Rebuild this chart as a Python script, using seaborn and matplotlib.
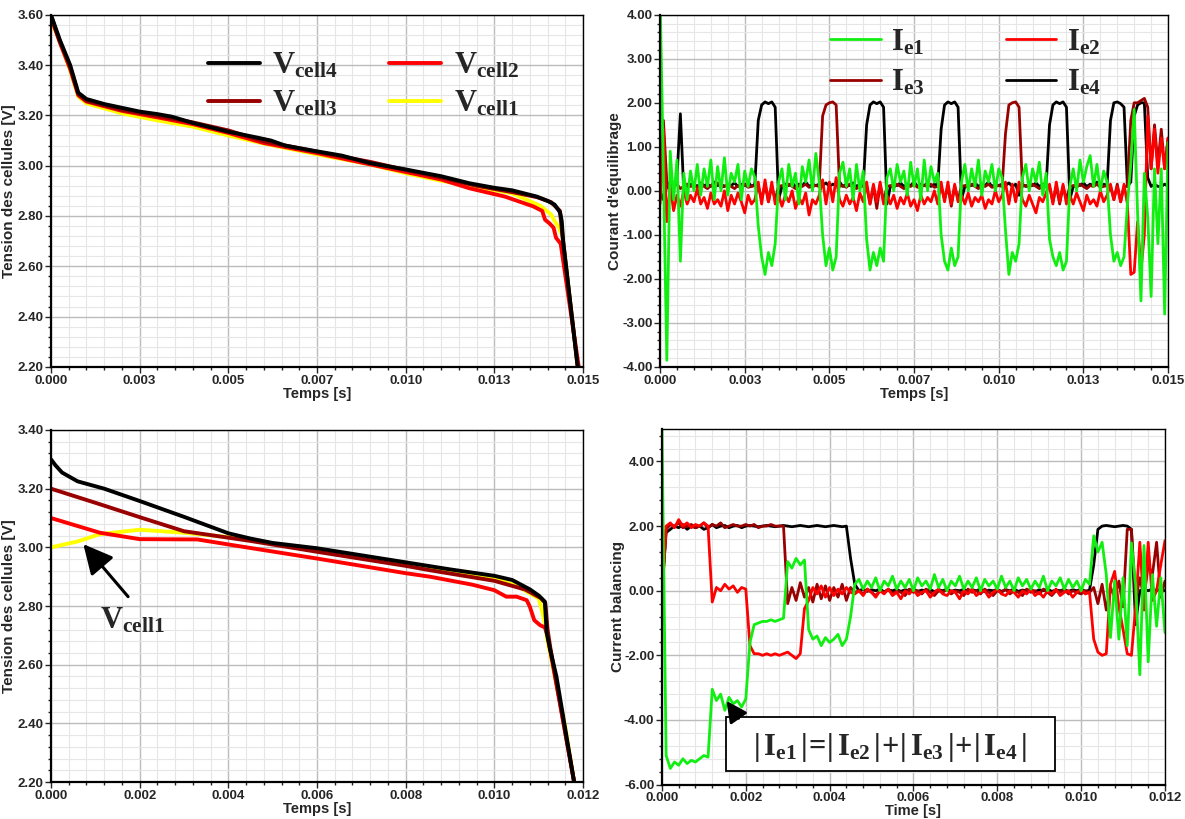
import numpy as np
import pandas as pd
import matplotlib
matplotlib.use("Agg")
import matplotlib.pyplot as plt
import seaborn as sns
from matplotlib.ticker import MultipleLocator, FormatStrFormatter, FixedLocator, FixedFormatter
from matplotlib.patches import Rectangle

# ---------------- data ----------------
DT = 0.0001  # sample step of the balancing currents [s]

# tick labels (the original software rounds 0.0025 steps to 3 decimals)
TOP_XTICKS = [0.0, 0.0025, 0.005, 0.0075, 0.01, 0.0125, 0.015]
TOP_XLABELS = ["0.000", "0.003", "0.005", "0.007", "0.010", "0.013", "0.015"]
BOT_XTICKS = [0.0, 0.002, 0.004, 0.006, 0.008, 0.010, 0.012]
BOT_XLABELS = ["0.000", "0.002", "0.004", "0.006", "0.008", "0.010", "0.012"]

# top left : cell voltages, same initial charge
t_v4_a = [0, 0.00025, 0.00054, 0.00077, 0.001, 0.0015, 0.002, 0.0025, 0.003, 0.0034,
          0.004, 0.005, 0.0058, 0.0062, 0.0066, 0.0075, 0.0082, 0.009, 0.01, 0.011,
          0.0118, 0.0125, 0.013, 0.0137, 0.014, 0.0142, 0.01435, 0.0144, 0.01444, 0.01485]
v4_a = [3.60, 3.50, 3.40, 3.29, 3.265, 3.245, 3.23, 3.215, 3.205, 3.195,
        3.17, 3.135, 3.112, 3.10, 3.08, 3.057, 3.04, 3.01, 2.985, 2.958,
        2.93, 2.912, 2.902, 2.877, 2.86, 2.845, 2.815, 2.78, 2.70, 2.20]
t_v3_a = [0, 0.00025, 0.00054, 0.00077, 0.001, 0.002, 0.003, 0.004, 0.005, 0.006,
          0.0075, 0.009, 0.01, 0.011, 0.012, 0.013, 0.0137, 0.0141, 0.01435, 0.01442, 0.01485]
v3_a = [3.595, 3.495, 3.395, 3.285, 3.258, 3.222, 3.198, 3.172, 3.14, 3.097,
        3.055, 3.015, 2.983, 2.953, 2.92, 2.895, 2.875, 2.855, 2.82, 2.72, 2.20]
t_v2_a = [0, 0.00025, 0.00054, 0.00077, 0.001, 0.002, 0.003, 0.004, 0.005, 0.006,
          0.0075, 0.009, 0.01, 0.011, 0.0118, 0.0128, 0.0136, 0.01385, 0.01393, 0.01406,
          0.01417, 0.01424, 0.01437, 0.01488]
v2_a = [3.59, 3.49, 3.385, 3.28, 3.255, 3.218, 3.192, 3.165, 3.13, 3.09,
        3.05, 3.005, 2.975, 2.945, 2.91, 2.877, 2.838, 2.82, 2.785, 2.77,
        2.753, 2.713, 2.69, 2.20]
t_v1_a = [0, 0.00018, 0.00054, 0.00077, 0.001, 0.002, 0.003, 0.004, 0.005, 0.006,
          0.0075, 0.009, 0.01, 0.011, 0.012, 0.013, 0.0138, 0.0141, 0.01424, 0.0143,
          0.01442, 0.01485]
v1_a = [3.575, 3.52, 3.38, 3.275, 3.248, 3.208, 3.18, 3.155, 3.12, 3.088,
        3.045, 3.005, 2.97, 2.94, 2.915, 2.89, 2.84, 2.806, 2.77, 2.76,
        2.72, 2.20]

# top right : balancing currents, one sample every DT
ie1_a = [4.5, 0.4, -3.85, 0.9, -0.2, 0.7, -1.6, 0.4, -0.2, 0.45,
         0.0, 0.6, -0.1, 0.5, 0.1, 0.7, -0.2, 0.55, 0.0, 0.75,
         -0.1, 0.4, 0.2, 0.6, -0.2, 0.45, 0.1, 0.5, 0.3,
         -0.8, -1.5, -1.9, -1.4, -1.7, -1.2, 0.2,
         0.5, -0.2, 0.6, 0.1, 0.4, -0.3, 0.55, 0.2, 0.7, 0.0, 0.85, 0.2,
         -1.0, -1.7, -1.3, -1.8, -1.5, 0.4,
         0.65, 0.1, 0.5, -0.2, 0.6, 0.0, 0.45,
         -1.1, -1.8, -1.4, -1.7, -1.3, -1.6, 0.3,
         0.5, 0.0, 0.6, 0.2, 0.45, -0.1, 0.65, 0.1, 0.5, -0.2, 0.7, 0.0, 0.55, 0.2, 0.4,
         -1.0, -1.6, -1.8, -1.3, -1.7, -1.5, 0.2,
         0.6, 0.0, 0.5, 0.1, 0.7, -0.1, 0.45, 0.2, 0.6, 0.0, 0.5, 0.3,
         -0.9, -1.9, -1.4, -1.6, -1.2, 0.3,
         0.6, 0.0, 0.5, 0.2, 0.65, -0.1, 0.4,
         -1.1, -1.5, -1.7, -1.4, -1.8, -1.6, 0.1,
         0.5, 0.0, 0.7, 0.2, 0.55, 0.8, 0.1, 0.6, 0.0, 0.45, 0.2,
         -1.0, -1.6, -1.4, -1.7, -1.5, -0.3,
         0.6, 1.85, -0.5, -2.5, 0.4, -0.6, -2.4, 0.5, -1.2, 0.5, -2.8, 1.1]
ie2_a = [-0.3, 1.4, -0.7, 0.1, -0.45, -0.1, -0.35, 0.0, -0.3, -0.1,
         -0.25, 0.05, -0.3, -0.15, -0.4, -0.05, -0.3, -0.2, -0.35, 0.0,
         -0.45, -0.1, -0.3, -0.05, -0.25, -0.5, -0.1, -0.3, -0.2,
         0.2, -0.3, 0.25, -0.25, 0.2, -0.3, -0.1,
         -0.35, -0.1, -0.25, 0.0, -0.4, -0.15, -0.3, -0.05, -0.55, -0.2, -0.3, -0.1,
         0.25, -0.3, 0.2, -0.25, 0.3, -0.2,
         -0.35, -0.1, -0.3, -0.15, -0.45, -0.05, -0.25,
         0.2, -0.3, 0.15, -0.25, 0.2, -0.3, -0.1,
         -0.3, -0.1, -0.4, -0.15, -0.3, -0.05, -0.35, -0.2, -0.45, -0.1, -0.3, -0.15, -0.25, 0.0, -0.3,
         0.2, -0.25, 0.2, -0.3, 0.15, -0.25, -0.1,
         -0.3, -0.05, -0.35, -0.15, -0.25, -0.1, -0.4, -0.2, -0.3, 0.0, -0.25, -0.1,
         0.2, -0.3, 0.15, -0.25, 0.2, -0.2,
         -0.35, -0.1, -0.3, -0.5, -0.15, -0.25, -0.05,
         0.15, -0.3, 0.2, -0.25, 0.15, -0.3, -0.1,
         -0.3, -0.05, -0.25, -0.45, -0.1, -0.3, -0.2, -0.35, 0.0, -0.25, -0.1,
         0.15, -0.2, 0.1, -0.25, 0.15, -0.3,
         -1.9, -1.85, -0.7, -1.8, -1.0, 1.7, 0.5, 1.4, 0.4, 1.2, 0.5, 1.2]
ie3_a = [-0.2, 1.6, 0.2, 0.0, 0.1, 0.15, 0.05, 0.1, 0.15, 0.1,
         0.12, 0.08, 0.15, 0.1, 0.05, 0.12, 0.1, 0.18, 0.08, 0.1,
         0.15, 0.1, 0.05, 0.12, 0.1, 0.15, 0.08, 0.1, 0.12,
         0.1, -0.2, 0.15, -0.25, 0.1, -0.2, 0.1,
         0.12, 0.08, 0.15, 0.1, 0.05, 0.12, 0.1, 0.15, 0.08, 0.1, 0.12, 0.1,
         1.7, 1.95, 2.0, 2.02, 1.95, 0.1,
         0.12, 0.08, 0.15, 0.1, 0.05, 0.12, 0.1,
         0.1, -0.3, 0.1, -0.4, 0.15, -0.25, 0.1,
         0.12, 0.08, 0.15, 0.1, 0.05, 0.12, 0.1, 0.15, 0.08, 0.1, 0.12, 0.1, 0.15, 0.08, 0.1,
         0.1, -0.2, 0.1, -0.35, 0.1, -0.2, 0.1,
         0.12, 0.08, 0.15, 0.1, 0.05, 0.12, 0.1, 0.15, 0.08, 0.1, 0.12, 0.1,
         1.3, 1.95, 2.0, 2.02, 1.9, 0.1,
         0.12, 0.08, 0.15, 0.1, 0.05, 0.12, 0.1,
         0.1, -0.25, 0.1, -0.3, 0.1, -0.2, 0.1,
         0.12, 0.08, 0.15, 0.1, 0.05, 0.12, 0.1, 0.15, 0.08, 0.1, 0.12,
         0.1, -0.2, 0.15, -0.25, 0.1, 0.1,
         1.6, 2.0, 2.0, 2.05, 2.1, 1.9, 0.5, 1.5, 0.6, 1.4, 0.5, 1.2]
ie4_a = [0.0, -0.2, 0.1, 0.2, 0.1, 0.3, 1.75, 0.0, 0.1, 0.15,
         0.15, 0.1, 0.18, 0.12, 0.15, 0.1, 0.2, 0.12, 0.15, 0.1,
         0.15, 0.12, 0.18, 0.1, 0.15, 0.12, 0.2, 0.1, 0.15,
         1.6, 1.95, 2.02, 1.98, 2.02, 1.9, -0.2,
         0.1, 0.15, 0.12, 0.18, 0.1, 0.15, 0.12, 0.2, 0.1, 0.15, 0.12, 0.15,
         0.12, 0.18, 0.1, 0.15, 0.12, 0.2,
         0.1, 0.15, 0.12, 0.18, 0.1, 0.15, 0.12,
         1.5, 1.95, 2.02, 1.98, 2.02, 1.9, -0.3,
         0.1, 0.15, 0.12, 0.18, 0.1, 0.15, 0.12, 0.2, 0.1, 0.15, 0.12, 0.18, 0.1, 0.15, 0.12,
         1.4, 1.95, 2.02, 1.98, 2.02, 1.9, -0.2,
         0.1, 0.15, 0.12, 0.18, 0.1, 0.15, 0.12, 0.2, 0.1, 0.15, 0.12, 0.15,
         0.12, 0.18, 0.1, 0.15, -0.1, 0.15,
         0.1, 0.15, 0.12, 0.18, 0.1, 0.15, 0.12,
         1.5, 1.95, 2.02, 1.98, 2.02, 1.9, -0.2,
         0.1, 0.15, 0.12, 0.18, 0.1, 0.15, 0.12, 0.2, 0.1, 0.15, 0.12,
         1.6, 2.0, 2.02, 1.98, 1.9, 0.1,
         0.2, 1.7, 1.95, 2.0, 2.0, 0.3, 0.1, 0.15, 0.1, 0.1, 0.15, 0.1]

# bottom left : cell voltages, unbalanced initial charge
t_v4_b = [0, 0.0001, 0.00025, 0.0006, 0.0012, 0.002, 0.003, 0.004, 0.0045, 0.005,
          0.006, 0.007, 0.008, 0.009, 0.01, 0.0104, 0.0108, 0.011, 0.01114, 0.01118,
          0.01126, 0.0114, 0.0118]
v4_b = [3.30, 3.28, 3.255, 3.225, 3.20, 3.158, 3.104, 3.048, 3.03, 3.015,
        2.997, 2.973, 2.949, 2.925, 2.903, 2.889, 2.857, 2.836, 2.815, 2.71,
        2.65, 2.56, 2.20]
t_v3_b = [0, 0.001, 0.002, 0.003, 0.0045, 0.006, 0.008, 0.00855, 0.01, 0.0107,
          0.01105, 0.01115, 0.0112, 0.01126, 0.0118]
v3_b = [3.20, 3.152, 3.103, 3.055, 3.022, 2.985, 2.937, 2.922, 2.886, 2.856,
        2.827, 2.81, 2.72, 2.66, 2.20]
t_v2_b = [0, 0.0011, 0.002, 0.0033, 0.0047, 0.006, 0.008, 0.00855, 0.0095, 0.01,
          0.01027, 0.0105, 0.01073, 0.0108, 0.0109, 0.01103, 0.01114, 0.0112, 0.0118]
v2_b = [3.10, 3.05, 3.028, 3.027, 2.993, 2.962, 2.912, 2.90, 2.873, 2.854,
        2.832, 2.832, 2.82, 2.798, 2.752, 2.735, 2.727, 2.70, 2.20]
t_v1_b = [0, 0.0006, 0.0011, 0.002, 0.003, 0.004, 0.005, 0.006, 0.008, 0.01,
          0.0105, 0.0108, 0.011, 0.01105, 0.01114, 0.0112, 0.01161, 0.0118]
v1_b = [3.00, 3.02, 3.045, 3.06, 3.05, 3.035, 3.012, 2.99, 2.942, 2.892,
        2.87, 2.843, 2.826, 2.80, 2.74, 2.68, 2.38, 2.20]

# bottom right : balancing currents, one sample every DT
ie1_b = [5.0, -5.1, -5.5, -5.3, -5.4, -5.2, -5.35, -5.25, -5.3, -5.2, -5.1, -5.15,
         -3.05, -3.4, -3.2, -3.7, -3.3, -3.5, -3.4, -3.6, -3.35, -1.6,
         -1.05, -1.0, -0.95, -0.95, -0.9, -0.95, -0.9, -0.85,
         0.9, 0.7, 1.0, 0.8, 0.95, -1.2,
         -1.5, -1.4, -1.7, -1.45, -1.6, -1.5, -1.35, -1.7, -1.5, -0.8,
         0.2, 0.35, 0.05, 0.3, 0.1, 0.4, 0.0, 0.3, 0.15, 0.45,
         0.05, 0.3, 0.1, 0.35, 0.0, 0.4, 0.15, 0.3, 0.05, 0.5,
         0.1, 0.35, 0.0, 0.3, 0.15, 0.45, 0.05, 0.3, 0.1, 0.4,
         0.0, 0.35, 0.15, 0.3, 0.05, 0.45, 0.1, 0.3, 0.0, 0.4,
         0.15, 0.35, 0.05, 0.3, 0.1, 0.45, 0.0, 0.3, 0.15, 0.4,
         0.05, 0.35, 0.1, 0.3, 0.0, 0.35, 0.2,
         1.7, 1.2, 1.5, 0.5, -1.45, 0.3, -1.5, 0.4, -1.7, 1.48, 0.2, -2.6,
         1.4, -2.2, 0.5, -1.1, 0.4, -1.3]
ie2_b = [-0.3, 2.0, 2.1, 1.95, 2.2, 2.0, 2.1, 1.95, 2.05, 2.0, 2.1, 2.0,
         -0.35, 0.1, 0.0, 0.2, 0.05, 0.15, -0.05, 0.1, 0.05,
         -1.7, -1.95, -1.95, -2.0, -1.95, -2.0, -1.95, -2.0, -1.95, -1.9, -2.0, -2.1, -1.95,
         -0.55, -0.3, 0.1, -0.1, 0.15, -0.2, 0.1, -0.15, 0.05, -0.1, 0.1, -0.05,
         -0.1, 0.0, -0.15, 0.05, -0.05, -0.2, 0.0, -0.1, 0.05, -0.15,
         -0.05, -0.25, 0.0, -0.1, 0.05, -0.15, -0.05, 0.0, -0.2, -0.05,
         0.05, -0.1, -0.15, 0.0, -0.05, -0.25, 0.0, -0.1, 0.05, -0.15,
         -0.05, 0.0, -0.2, -0.05, 0.05, -0.1, -0.15, 0.0, -0.05, -0.2,
         0.0, -0.1, 0.05, -0.15, -0.05, -0.2, 0.0, -0.1, 0.05, -0.15,
         -0.05, 0.0, -0.2, -0.05, 0.05, -0.1, -0.05,
         -1.5, -1.9, -2.0, -1.95, 0.2, 0.6, -0.5, -1.2, -1.95, -2.0, -0.5, 1.5,
         -0.6, 1.5, -0.3, 0.0, 0.8, 1.55]
ie3_b = [0.0, 1.9, 2.05, 2.0, 2.1, 1.95, 2.0, 2.05, 1.95, 2.0,
         2.1, 1.95, 2.05, 2.0, 2.1, 1.95, 2.0, 2.05, 2.0, 2.0,
         2.05, 2.0, 2.05, 1.95, 2.0, 2.0, 2.05, 2.0, 2.0, 2.0,
         -0.4, 0.1, -0.3, 0.25, -0.2, 0.1, -0.35, 0.2, -0.25, 0.15, -0.3, 0.1, -0.2, 0.2, -0.3, 0.1,
         -0.05, 0.0, -0.1, 0.05, -0.05, -0.15, 0.0, -0.05, 0.05, -0.1,
         0.0, -0.05, -0.15, 0.05, -0.05, 0.0, -0.1, 0.05, -0.05, -0.15,
         0.0, -0.05, 0.05, -0.1, 0.0, -0.05, -0.15, 0.05, -0.05, 0.0,
         -0.1, 0.05, -0.05, -0.15, 0.0, -0.05, 0.05, -0.1, 0.0, -0.05,
         -0.15, 0.05, -0.05, 0.0, -0.1, 0.05, -0.05, -0.15, 0.0, -0.05,
         0.05, -0.1, 0.0, -0.05, -0.1, 0.0, -0.05,
         0.1, -0.4, 0.2, -0.6, 0.1, -0.2, 0.3, -0.5, 1.9, 1.9, -0.3, 0.4,
         -0.2, 0.8, 0.5, 1.5, -0.2, 0.3]
ie4_b = [0.0, 1.8, 1.9, 2.0, 1.95, 2.05, 1.9, 2.0, 1.95, 2.0,
         1.9, 1.95, 2.05, 1.95, 2.0, 2.02, 1.95, 2.0, 2.02, 1.95,
         2.0, 2.02, 2.0, 1.98, 2.0, 2.02, 2.0, 1.98, 2.0, 2.02,
         2.0, 1.98, 2.0, 2.02, 2.0, 1.98, 2.0, 2.02, 2.0, 1.98,
         2.0, 2.02, 2.0, 1.98, 2.0,
         1.0, 0.2,
         0.0, 0.05, -0.02, 0.03, 0.0, 0.05, -0.03, 0.02, 0.0, 0.04,
         -0.02, 0.03, 0.0, 0.05, -0.02, 0.02, 0.0, 0.04, -0.03, 0.03,
         0.0, 0.05, -0.02, 0.02, 0.0, 0.04, -0.02, 0.03, 0.0, 0.05,
         -0.03, 0.02, 0.0, 0.04, -0.02, 0.03, 0.0, 0.05, -0.02, 0.02,
         0.0, 0.04, -0.03, 0.03, 0.0, 0.05, -0.02, 0.02, 0.0, 0.04,
         -0.02, 0.03, 0.0, 0.05, -0.02, 0.02,
         0.8, 1.9, 2.0, 2.02, 2.0, 1.98, 2.0, 2.02, 2.0, 1.9, -1.05, 0.0,
         0.05, 0.0, 0.05, 0.0, 0.05, 0.0]

# ---------------- style ----------------
sns.set_style("white")
plt.rcParams["font.family"] = ["Liberation Sans Narrow", "Liberation Sans", "DejaVu Sans"]
plt.rcParams["font.weight"] = "bold"
plt.rcParams["mathtext.fontset"] = "custom"
plt.rcParams["mathtext.rm"] = "Liberation Serif"
plt.rcParams["mathtext.bf"] = "Liberation Serif:bold"
plt.rcParams["mathtext.it"] = "Liberation Serif:italic"

BLACK, DARKRED, RED, YELLOW, GREEN = "#000000", "#990000", "#ff0000", "#ffff00", "#11ee11"

V1, V2, V3, V4 = (r"$\mathbf{V_{cell1}}$", r"$\mathbf{V_{cell2}}$",
                  r"$\mathbf{V_{cell3}}$", r"$\mathbf{V_{cell4}}$")
I1, I2, I3, I4 = (r"$\mathbf{I_{e1}}$", r"$\mathbf{I_{e2}}$",
                  r"$\mathbf{I_{e3}}$", r"$\mathbf{I_{e4}}$")
ARROW = dict(arrowstyle="-|>,head_length=0.9,head_width=0.45", color="black",
             lw=2.2, shrinkA=0, shrinkB=0, mutation_scale=20)


def curves(pairs):
    frames = [pd.DataFrame({"t": t, "v": v, "serie": name}) for name, t, v in pairs]
    return pd.concat(frames, ignore_index=True)


def sampled(pairs):
    frames = [pd.DataFrame({"t": np.arange(len(v)) * DT, "v": v, "serie": name}) for name, v in pairs]
    return pd.concat(frames, ignore_index=True)


def style(ax, xmax, xticks, xlabels, ylim, ystep, xlabel, ylabel, ylab_x):
    ax.set_xlim(0, xmax)
    ax.set_ylim(*ylim)
    ax.xaxis.set_major_locator(FixedLocator(xticks))
    ax.xaxis.set_major_formatter(FixedFormatter(xlabels))
    ax.xaxis.set_minor_locator(MultipleLocator((xticks[1] - xticks[0]) / 5))
    ax.yaxis.set_major_locator(MultipleLocator(ystep))
    ax.yaxis.set_minor_locator(MultipleLocator(ystep / 5))
    ax.yaxis.set_major_formatter(FormatStrFormatter("%.2f"))
    ax.set_axisbelow(True)
    ax.grid(which="major", color="#bcbcbc", lw=1.0)
    ax.grid(which="minor", color="#e6e6e6", lw=0.8)
    ax.tick_params(which="major", direction="out", length=4, width=1, labelsize=9.5, pad=1.5,
                   bottom=True, left=True, top=False, right=False)
    ax.tick_params(which="minor", direction="out", length=2.5, width=1,
                   bottom=True, left=True, top=False, right=False)
    for s in ax.spines.values():
        s.set_color("black")
        s.set_linewidth(1.0)
    ax.spines["left"].set_linewidth(1.6)
    ax.spines["bottom"].set_linewidth(1.6)
    ax.set_xlabel(xlabel, fontsize=10.5, fontweight="bold", labelpad=0)
    ax.set_ylabel(ylabel, fontsize=11, fontweight="bold", family=["Liberation Sans", "DejaVu Sans"])
    ax.yaxis.set_label_coords(ylab_x, 0.5)


fig = plt.figure(figsize=(11.85, 8.19), dpi=100)
ax_tl = fig.add_axes([0.043, 0.552, 0.449, 0.430])
ax_tr = fig.add_axes([0.557, 0.552, 0.4287, 0.430])
ax_bl = fig.add_axes([0.043, 0.045, 0.449, 0.430])
ax_br = fig.add_axes([0.5586, 0.042, 0.4245, 0.434])

v_palette = {V1: YELLOW, V2: RED, V3: DARKRED, V4: BLACK}
i_palette = {I1: GREEN, I2: RED, I3: DARKRED, I4: BLACK}

# top left
df = curves([(V1, t_v1_a, v1_a), (V2, t_v2_a, v2_a), (V3, t_v3_a, v3_a), (V4, t_v4_a, v4_a)])
sns.lineplot(data=df, x="t", y="v", hue="serie", hue_order=[V1, V2, V3, V4], palette=v_palette,
             estimator=None, sort=False, lw=2.8, ax=ax_tl)
style(ax_tl, 0.015, TOP_XTICKS, TOP_XLABELS, (2.2, 3.6), 0.2, "Temps [s]",
      "Tension des cellules [V]", -0.066)
h, l = ax_tl.get_legend_handles_labels()
hd = dict(zip(l, h))
ax_tl.legend([hd[k] for k in (V4, V3, V2, V1)], [V4, V3, V2, V1], ncol=2, frameon=False,
             loc="upper left", bbox_to_anchor=(0.295, 0.898), borderpad=0, borderaxespad=0,
             fontsize=22, handlelength=1.7, handletextpad=0.4, columnspacing=1.7,
             labelspacing=0.25)

# top right
df = sampled([(I4, ie4_a), (I3, ie3_a), (I2, ie2_a), (I1, ie1_a)])
sns.lineplot(data=df, x="t", y="v", hue="serie", hue_order=[I4, I3, I2, I1], palette=i_palette,
             estimator=None, sort=False, lw=2.0, ax=ax_tr)
style(ax_tr, 0.015, TOP_XTICKS, TOP_XLABELS, (-4, 4), 1.0, "Temps [s]",
      "Courant d'équilibrage", -0.075)
h, l = ax_tr.get_legend_handles_labels()
hd = dict(zip(l, h))
ax_tr.legend([hd[k] for k in (I1, I3, I2, I4)], [I1, I3, I2, I4], ncol=2, frameon=False,
             loc="upper left", bbox_to_anchor=(0.335, 0.965), borderpad=0, borderaxespad=0,
             fontsize=22, handlelength=1.65, handletextpad=0.35, columnspacing=2.65,
             labelspacing=0.35)

# bottom left
df = curves([(V1, t_v1_b, v1_b), (V2, t_v2_b, v2_b), (V3, t_v3_b, v3_b), (V4, t_v4_b, v4_b)])
sns.lineplot(data=df, x="t", y="v", hue="serie", hue_order=[V1, V2, V3, V4], palette=v_palette,
             estimator=None, sort=False, lw=2.8, ax=ax_bl, legend=False)
style(ax_bl, 0.012, BOT_XTICKS, BOT_XLABELS, (2.2, 3.4), 0.2, "Temps [s]",
      "Tension des cellules [V]", -0.066)
ax_bl.annotate("", xy=(0.00073, 3.011), xytext=(0.00174, 2.832), arrowprops=ARROW)
ax_bl.text(0.0011, 2.725, V1, fontsize=22, ha="left", va="baseline")

# bottom right
df = sampled([(I4, ie4_b), (I3, ie3_b), (I2, ie2_b), (I1, ie1_b)])
sns.lineplot(data=df, x="t", y="v", hue="serie", hue_order=[I4, I3, I2, I1], palette=i_palette,
             estimator=None, sort=False, lw=2.0, ax=ax_br, legend=False)
style(ax_br, 0.012, BOT_XTICKS, BOT_XLABELS, (-6, 5), 2.0, "Time [s]",
      "Current balancing", -0.074)
ax_br.add_patch(Rectangle((0.127, 0.039), 0.654, 0.151, transform=ax_br.transAxes,
                          facecolor="white", edgecolor="black", lw=1.3, zorder=5))
ax_br.text(0.453, 0.105,
           r"$\mathbf{|\,I_{e1}\,|\!=\!|\,I_{e2}\,|\!+\!|\,I_{e3}\,|\!+\!|\,I_{e4}\,|}$",
           fontsize=22, ha="center", va="center", transform=ax_br.transAxes, zorder=6)
ax_br.annotate("", xy=(0.00154, -3.41), xytext=(0.00183, -3.95), zorder=7,
               arrowprops=dict(ARROW, mutation_scale=14, lw=2.0))

fig.savefig("out.png", dpi=100)
